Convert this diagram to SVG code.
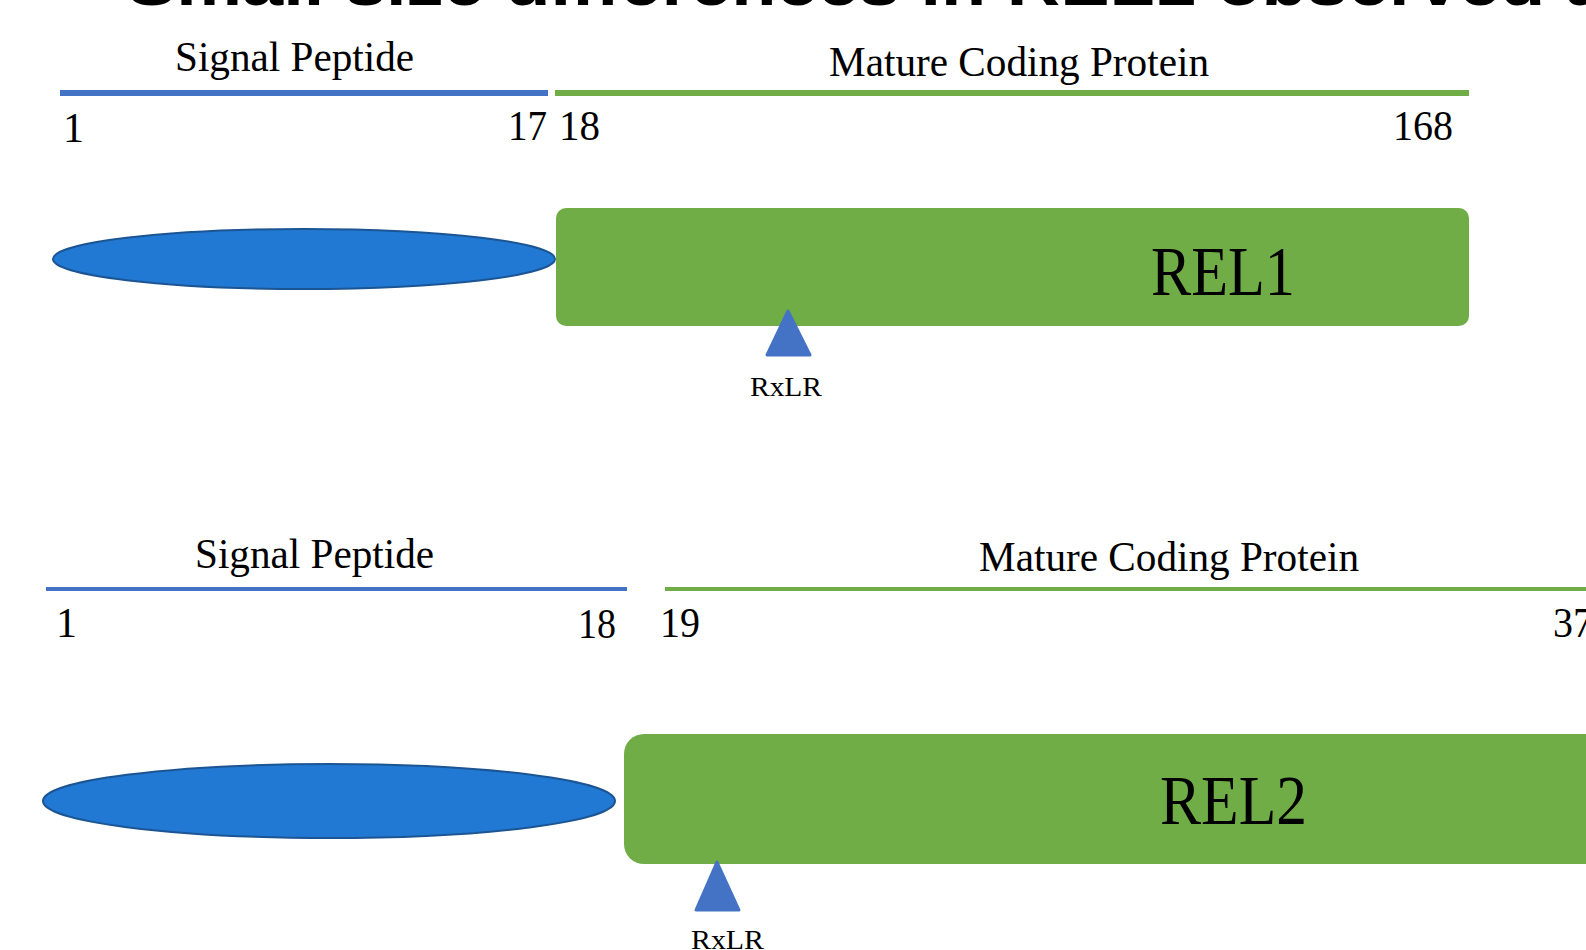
<svg xmlns="http://www.w3.org/2000/svg" width="1586" height="950" viewBox="0 0 1586 950">
  <style>
    .lbl { font-family: "Liberation Serif", "Times New Roman", serif; fill: #000; }
    .hdr { font-size: 42px; }
    .num { font-size: 42px; }
    .big { font-size: 70px; }
    .motif { font-size: 28px; }
    .sp { stroke: #4472C4; stroke-linecap: butt; }
    .mc { stroke: #70AD47; stroke-linecap: butt; }
    .sig { fill: #2179D3; stroke: #1B5593; stroke-width: 2; }
    .body { fill: #70AD47; }
    .tri { fill: #4472C4; stroke: #4472C4; stroke-width: 3; stroke-linejoin: round; }
    .title { font-family: "Liberation Sans", Arial, sans-serif; font-weight: bold; font-size: 64px; fill: #000; }
  </style>
  <rect x="0" y="0" width="1586" height="950" fill="#ffffff"/>
  <text class="title" x="127" y="5" textLength="1480" lengthAdjust="spacingAndGlyphs">Small size differences in REL1 observed a</text>

  <g id="rel1">
    <g id="rel1-signal-label">
      <text class="lbl hdr" x="175" y="71" textLength="239" lengthAdjust="spacingAndGlyphs">Signal Peptide</text>
      <line class="sp" x1="60" y1="93" x2="548" y2="93" stroke-width="6"/>
      <text class="lbl num" x="63" y="142">1</text>
      <text class="lbl num" x="508" y="140" textLength="39" lengthAdjust="spacingAndGlyphs">17</text>
    </g>
    <g id="rel1-mature-label">
      <text class="lbl hdr" x="829" y="76" textLength="380" lengthAdjust="spacingAndGlyphs">Mature Coding Protein</text>
      <line class="mc" x1="555" y1="93" x2="1469" y2="93" stroke-width="6"/>
      <text class="lbl num" x="559" y="140" textLength="41" lengthAdjust="spacingAndGlyphs">18</text>
      <text class="lbl num" x="1393" y="140" textLength="60" lengthAdjust="spacingAndGlyphs">168</text>
    </g>
    <ellipse id="rel1-signal" class="sig" cx="304" cy="259" rx="251" ry="30"/>
    <g id="rel1-body">
      <rect class="body" x="556" y="208" width="913" height="118" rx="10"/>
      <text class="lbl big" x="1151" y="295" textLength="144" lengthAdjust="spacingAndGlyphs">REL1</text>
    </g>
    <g id="rel1-rxlr">
      <polygon class="tri" points="788,311 767,355 810,355"/>
      <text class="lbl motif" x="750" y="396" textLength="72" lengthAdjust="spacingAndGlyphs">RxLR</text>
    </g>
  </g>

  <g id="rel2">
    <g id="rel2-signal-label">
      <text class="lbl hdr" x="195" y="568" textLength="239" lengthAdjust="spacingAndGlyphs">Signal Peptide</text>
      <line class="sp" x1="46" y1="589" x2="627" y2="589" stroke-width="4"/>
      <text class="lbl num" x="56" y="637">1</text>
      <text class="lbl num" x="578" y="638" textLength="38" lengthAdjust="spacingAndGlyphs">18</text>
    </g>
    <g id="rel2-mature-label">
      <text class="lbl hdr" x="979" y="571" textLength="380" lengthAdjust="spacingAndGlyphs">Mature Coding Protein</text>
      <line class="mc" x1="665" y1="589" x2="1586" y2="589" stroke-width="4"/>
      <text class="lbl num" x="660" y="637" textLength="40" lengthAdjust="spacingAndGlyphs">19</text>
      <text class="lbl num" x="1553" y="637" textLength="40" lengthAdjust="spacingAndGlyphs">37</text>
    </g>
    <ellipse id="rel2-signal" class="sig" cx="329" cy="801" rx="286" ry="37"/>
    <g id="rel2-body">
      <rect class="body" x="624" y="734" width="1000" height="130" rx="20"/>
      <text class="lbl big" x="1160" y="824" textLength="147" lengthAdjust="spacingAndGlyphs">REL2</text>
    </g>
    <g id="rel2-rxlr">
      <polygon class="tri" points="717,862 696,910 739,910"/>
      <text class="lbl motif" x="691" y="949" textLength="73" lengthAdjust="spacingAndGlyphs">RxLR</text>
    </g>
  </g>

  <g id="connectors"></g>
</svg>
